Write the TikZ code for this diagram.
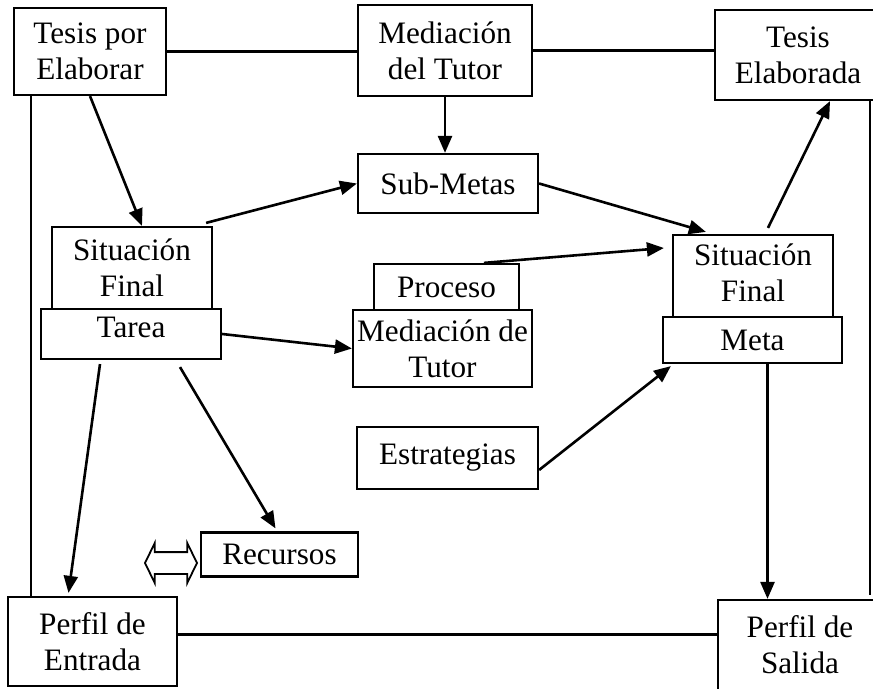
\documentclass[tikz,border=0pt]{standalone}
\usepackage{fontspec}
\setmainfont{Liberation Serif}
\usetikzlibrary{arrows.meta,shapes.arrows}

\begin{document}
\begin{tikzpicture}[x=0.5pt,y=-0.5pt,
    caja/.style={draw, line width=1.1pt, align=center, inner sep=0pt,
        font=\fontsize{15.6}{18}\selectfont},
    flecha/.style={line width=1.3pt, -{Triangle[length=8.5pt,width=7pt]}},
    linea/.style={line width=1.2pt}]
    \path[use as bounding box, clip] (0,0) rectangle (873,689);

    \node[caja, minimum width=76pt, minimum height=43.5pt] (tesisPor) at (90,51.5) {Tesis por\\Elaborar};
    \node[caja, minimum width=87pt, minimum height=45.5pt] (medTutor) at (445,50.5) {Mediación\\del Tutor};
    \node[caja, minimum width=83pt, minimum height=45pt] (tesisElab) at (798,55) {Tesis\\Elaborada};
    \node[caja, minimum width=90pt, minimum height=29.5pt] (subMetas) at (448,183.5) {Sub-Metas};
    \node[caja, minimum width=80pt, minimum height=41pt] (sitFinA) at (132,268) {Situación\\Final};
    \node[caja, minimum width=90pt, minimum height=25pt, text depth=7pt] (tarea) at (131,334) {Tarea};
    \node[caja, minimum width=72.5pt, minimum height=23pt] (proceso) at (446.5,287) {Proceso};
    \node[caja, minimum width=89.5pt, minimum height=38.5pt] (medTutorB) at (442.5,348.5) {Mediación de\\Tutor};
    \node[caja, minimum width=80pt, minimum height=41pt, text depth=3pt] (sitFinB) at (753,276) {Situación\\Final};
    \node[caja, minimum width=89.5pt, minimum height=23pt] (meta) at (752.5,340) {Meta};
    \node[caja, minimum width=90.5pt, minimum height=31pt] (estrategias) at (447.5,458) {Estrategias};
    \node[caja, minimum width=78.5pt, minimum height=22pt] (recursos) at (279.5,554.5) {Recursos};
    \node[caja, minimum width=84.5pt, minimum height=44.5pt] (perfilEnt) at (92.5,641.5) {Perfil de\\Entrada};
    \node[caja, minimum width=82pt, minimum height=45pt] (perfilSal) at (800,645) {Perfil de\\Salida};
    \node[double arrow, draw, line width=0.9pt, inner xsep=0pt, inner ysep=5pt,
        minimum height=26pt, double arrow head extend=4.5pt,
        double arrow tip angle=128] (flechaDoble) at (171,563) {};

    \coordinate (finDerecha) at (870,595);
    \draw[linea] (tesisPor.east) -- (tesisPor.east -| medTutor.west);
    \draw[linea] (medTutor.east) -- (medTutor.east -| tesisElab.west);
    \draw[linea] ([yshift=3.5pt]perfilEnt.east) -- ([yshift=3.5pt]perfilEnt.east -| perfilSal.west);
    \draw[linea] (31,0 |- tesisPor.south) -- (31,0 |- perfilEnt.north);
    \draw[linea] (finDerecha |- tesisElab.south) -- (finDerecha);

    \draw[flecha] (tesisPor.south) -- ([xshift=5pt]sitFinA.north);
    \draw[flecha] ([xshift=-3.5pt,yshift=1.5pt]sitFinA.north east) -- (subMetas.west);
    \draw[flecha] (medTutor.south) -- (medTutor.south |- subMetas.north);
    \draw[flecha] (subMetas.east) -- ([xshift=17pt,yshift=1pt]sitFinB.north west);
    \draw[flecha] ([xshift=18.75pt]proceso.north) -- ([xshift=-4pt,yshift=14pt]sitFinB.west);
    \draw[flecha] (tarea.east) -- (medTutorB.west);
    \draw[flecha] ([xshift=7.5pt,yshift=3pt]sitFinB.north) -- ([xshift=16pt]tesisElab.south);
    \draw[flecha] ([yshift=-6pt]estrategias.east) -- ([xshift=4.5pt,yshift=-1pt]meta.south west);
    \draw[flecha] ([xshift=7.5pt]meta.south) -- ([xshift=7.5pt]meta.south |- perfilSal.north);
    \draw[flecha] ([xshift=-15.5pt,yshift=-2pt]tarea.south) -- ([xshift=-12pt,yshift=1.5pt]perfilEnt.north);
    \draw[flecha] ([xshift=24.5pt,yshift=-3.5pt]tarea.south) -- ([xshift=-2pt,yshift=1.5pt]recursos.north);
\end{tikzpicture}
\end{document}
